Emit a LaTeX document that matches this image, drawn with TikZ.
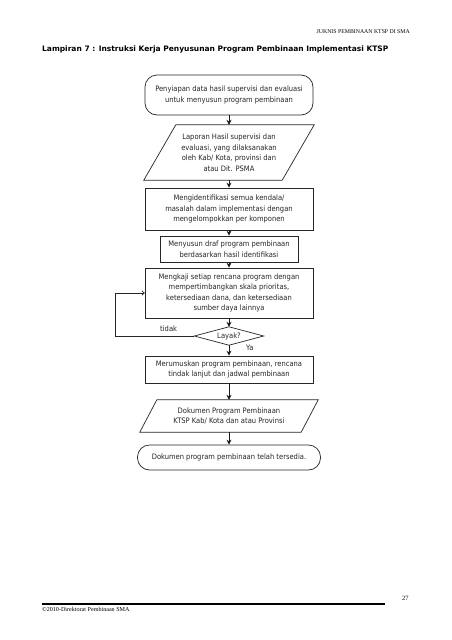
\documentclass[tikz,border=0pt]{standalone}
\usepackage{fontspec}
\setmainfont{DejaVu Sans Condensed}
\newfontfamily\serifhead{Liberation Serif}
\newfontfamily\titlefont{DejaVu Sans}
\usetikzlibrary{arrows.meta}
\begin{document}
\begin{tikzpicture}[x=1pt,y=1pt,
 txt/.style={align=center, font=\fontsize{7.5}{10.5}\selectfont, inner sep=0pt, text=black!85},
 box/.style={txt, draw=black!85, line width=0.7pt},
 term/.style={box, rounded corners=12pt},
 shapeline/.style={draw=black!85, line width=0.7pt},
 flowedge/.style={draw=black!90, line width=1pt, -{Stealth[length=5pt,width=5pt]}},
 looparr/.style={draw=black!85, line width=0.7pt, -{To[length=3pt,width=5pt]}},
]
\fill[white] (0,0) rectangle (452,-640);
\useasboundingbox (0,0) rectangle (452,-640);

% header
\node[anchor=east, font=\serifhead\fontsize{5.8}{6}\selectfont, inner sep=0pt] (hdr) at (410,-32) {JUKNIS PEMBINAAN KTSP DI SMA};
\node[anchor=west, font=\titlefont\bfseries\fontsize{7.5}{9}\selectfont, inner sep=0pt] (title) at (42,-49) {Lampiran 7 : Instruksi Kerja Penyusunan Program Pembinaan Implementasi KTSP};

% nodes
\node[term, minimum width=168pt, minimum height=40pt] (n1) at (229,-95) {Penyiapan data hasil supervisi dan evaluasi\\untuk menyusun program pembinaan};
\node[txt, minimum width=170pt, minimum height=55pt] (n2) at (229,-152.5) {Laporan Hasil supervisi dan\\evaluasi, yang dilaksanakan\\oleh Kab/ Kota, provinsi dan\\atau Dit. PSMA};
\draw[shapeline] ([xshift=32pt]n2.north west) -- (n2.north east) -- ([xshift=-32pt]n2.south east) -- (n2.south west) -- cycle;
\node[box, minimum width=168pt, minimum height=42pt] (n3) at (229,-209) {Mengidentifikasi semua kendala/\\masalah dalam implementasi dengan\\mengelompokkan per komponen};
\node[box, minimum width=138pt, minimum height=26pt] (n4) at (229,-249) {Menyusun draf program pembinaan\\berdasarkan hasil identifikasi};
\node[box, minimum width=168pt, minimum height=50pt] (n5) at (229,-293) {Mengkaji setiap rencana program dengan\\mempertimbangkan skala prioritas,\\ketersediaan dana, dan ketersediaan\\sumber daya lainnya};
\node[txt, minimum width=69pt, minimum height=18pt] (d) at (229,-336) {Layak?};
\draw[shapeline] (d.north) -- (d.east) -- (d.south) -- (d.west) -- cycle;
\node[box, minimum width=168pt, minimum height=27pt] (n6) at (229,-369.5) {Merumuskan program pembinaan, rencana\\tindak lanjut dan jadwal pembinaan};
\node[txt, minimum width=178pt, minimum height=32pt] (n7) at (229,-416) {Dokumen Program Pembinaan\\KTSP Kab/ Kota dan atau Provinsi};
\draw[shapeline] ([xshift=17pt]n7.north west) -- (n7.north east) -- ([xshift=-17pt]n7.south east) -- (n7.south west) -- cycle;
\node[term, minimum width=183pt, minimum height=25pt] (n8) at (229,-457.5) {Dokumen program pembinaan telah tersedia.};

% labels
\node[txt, anchor=south west] (tidak) at (160,-332) {tidak};
\node[txt, anchor=north west] (ya) at (246,-345) {Ya};

% connectors
\path (n1) edge[flowedge] (n2)
      (n2) edge[flowedge] (n3)
      (n3) edge[flowedge] (n4)
      (n4) edge[flowedge] (n5)
      (n5) edge[flowedge] (d)
      (d)  edge[flowedge] (n6)
      (n6) edge[flowedge] (n7)
      (n7) edge[flowedge] (n8);
\coordinate (lc) at (115,-336);
\draw[looparr] (d.west) -- (lc) |- (n5.west);

% footer
\coordinate (fl) at (42,-604);
\coordinate (fr) at (385,-604);
\draw[line width=1.1pt] (fl) -- (fr);
\node[anchor=north west, font=\serifhead\fontsize{6.1}{7}\selectfont, inner sep=0pt] (foot) at (42,-607) {©2010-Direktorat Pembinaan SMA};
\node[anchor=west, font=\serifhead\fontsize{6.5}{7}\selectfont, inner sep=0pt] (pg) at (402,-598) {27};
\end{tikzpicture}
\end{document}
